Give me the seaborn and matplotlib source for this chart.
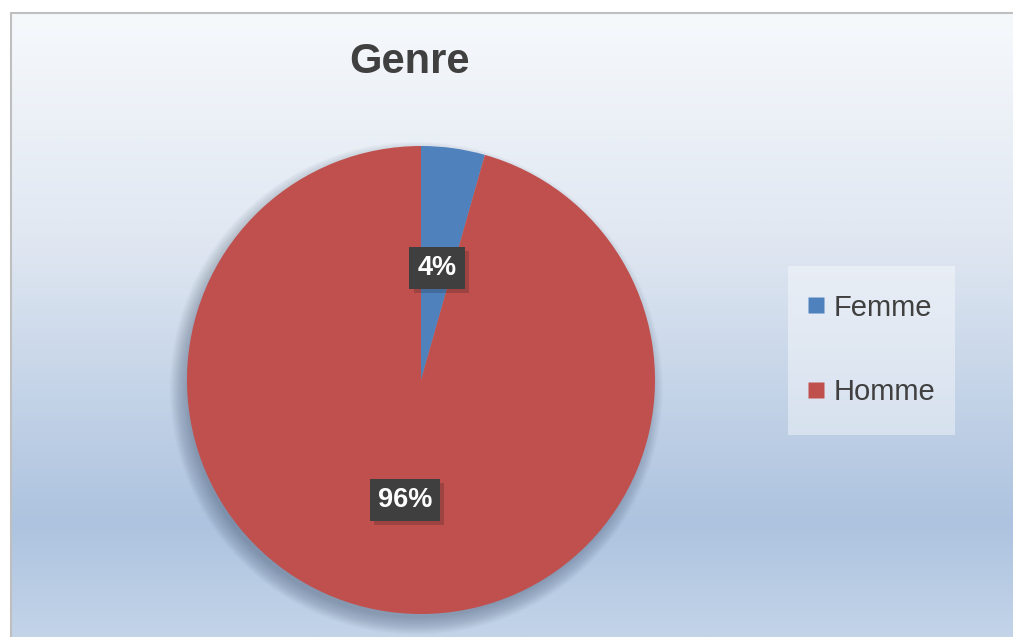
import numpy as np
import matplotlib.pyplot as plt
import matplotlib.patheffects as pe
from matplotlib.colors import LinearSegmentedColormap
from matplotlib.lines import Line2D
from matplotlib.patches import Circle, Rectangle
import seaborn as sns

sns.set_theme(style="white")
plt.rcParams["font.family"] = ["Liberation Sans", "DejaVu Sans"]

# data
title = "Genre"
categories = ["Femme", "Homme"]
values = [4.4, 95.6]
colors = ["#4F81BD", "#C0504D"]

W, H = 1013, 637
fig = plt.figure(figsize=(W / 100, H / 100), dpi=100)

# background gradient (chart area)
bg = fig.add_axes([0, 0, 1, 1])
bg.set_axis_off()
cmap = LinearSegmentedColormap.from_list(
    "bg", [(0.0, "#F6F9FC"), (0.35, "#E1E8F2"), (0.82, "#ADC3DF"), (1.0, "#C3D4E9")]
)
grad = np.linspace(0, 1, 400).reshape(-1, 1)
top = 13 / H
left = 11 / W
bg.imshow(grad, aspect="auto", cmap=cmap, extent=[left, 1, 0, 1 - top], zorder=0)
bg.set_xlim(0, 1)
bg.set_ylim(0, 1)
bg.plot([left, 1], [1 - top, 1 - top], color="#BFBFBF", lw=1.5, zorder=2)
bg.plot([left, left], [0, 1 - top], color="#BFBFBF", lw=1.5, zorder=2)

# legend background box
bg.add_patch(Rectangle((788 / W, 1 - 435 / H), 167 / W, 169 / H,
                       facecolor="white", alpha=0.4, edgecolor="none", zorder=1))

# pie
cx, cy, r = 421, 380, 234
ax = fig.add_axes([(cx - r) / W, (H - cy - r) / H, 2 * r / W, 2 * r / H])
ax.set_axis_off()

# soft shadow, mostly towards the lower left
for i in range(22):
    rr = 0.98 + 0.0035 * i
    ax.add_patch(Circle((-0.02, -0.035), rr, color="#3A4A66", alpha=0.02,
                        lw=0, zorder=0, clip_on=False))

wedges, texts, autotexts = ax.pie(
    values,
    colors=colors,
    startangle=90,
    counterclock=False,
    autopct="%.0f%%",
    pctdistance=0.5,
    radius=1.0,
    wedgeprops=dict(linewidth=0),
    textprops=dict(color="white", fontsize=19.5, fontweight="bold"),
)
for w in wedges:
    w.set_clip_on(False)
for t in autotexts:
    x, y = t.get_position()
    t.set_position((x, y - 4 / r))
    t.set_bbox(dict(boxstyle="square,pad=0.3", facecolor="#3F3F3F", edgecolor="none"))
    t.get_bbox_patch().set_path_effects(
        [pe.SimplePatchShadow(offset=(3, -3), alpha=0.2), pe.Normal()]
    )
ax.set_xlim(-1, 1)
ax.set_ylim(-1, 1)

fig.text(409 / W, 1 - 62 / H, title, ha="center", va="center",
         fontsize=30, fontweight="bold", color="#404040")

# legend
handles = [Line2D([], [], marker="s", linestyle="none", markersize=11,
                  markerfacecolor=c, markeredgecolor="none") for c in colors]
leg = fig.legend(
    handles, categories,
    loc="center", bbox_to_anchor=(870 / W, 1 - 350 / H),
    fontsize=21, labelspacing=1.95, handletextpad=0.2, handlelength=0.8,
    borderpad=0.5, frameon=False,
)
for t in leg.get_texts():
    t.set_color("#404040")

fig.savefig("out.png", dpi=100)
